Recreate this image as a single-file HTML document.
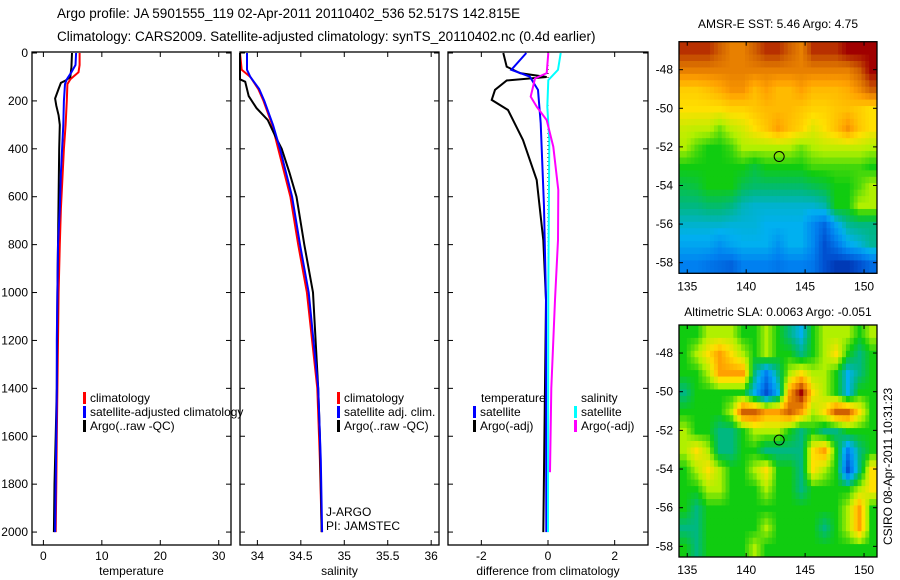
<!DOCTYPE html>
<html><head><meta charset="utf-8"><style>
body{margin:0;background:#fff;}
svg{display:block;font-family:"Liberation Sans",sans-serif;}
text{font-size:12px;fill:#000;}
</style></head><body>
<svg id="fig" width="900" height="580" viewBox="0 0 900 580" xmlns="http://www.w3.org/2000/svg">
<text x="57" y="18" style="font-size:13.5px">Argo profile: JA 5901555_119 02-Apr-2011 20110402_536 52.517S 142.815E</text>
<text x="57" y="41" style="font-size:13.5px">Climatology: CARS2009. Satellite-adjusted climatology: synTS_20110402.nc (0.4d earlier)</text>
<text x="778" y="28" text-anchor="middle">AMSR-E SST: 5.46 Argo: 4.75</text>
<text x="778" y="316" text-anchor="middle">Altimetric SLA: 0.0063 Argo: -0.051</text>
<text transform="translate(892,545) rotate(-90)">CSIRO 08-Apr-2011 10:31:23</text>
<g id="layer"></g>
</svg>
<script>
// ---- data ----
const depthTicks=[0,200,400,600,800,1000,1200,1400,1600,1800,2000];
const tempTicks=[0,10,20,30];
const salTicks=[34,34.5,35,35.5,36];
const diffTicks=[-2,0,2];
const climDepth=[0,50,80,110,130,200,300,400,500,650,800,1000,1200,1400,1600,1800,2000];
const climTemp=[6.2,6.2,6.0,4.6,4.1,4.0,3.8,3.5,3.3,3.0,2.8,2.6,2.5,2.4,2.3,2.2,2.1];
const satTemp=[5.6,5.5,4.8,4.0,3.7,3.5,3.4,3.2,3.0,2.8,2.5,2.4,2.3,2.3,2.2,2.1,2.0];
const argoDepth=[0,60,100,115,125,150,190,220,260,300,400,600,800,1000,1400,1600,1800,2000];
const argoTemp=[4.9,4.8,4.6,3.8,3.0,2.6,2.0,2.2,2.6,2.8,2.7,2.6,2.5,2.4,2.3,2.1,1.9,1.8];
const salDepth=[0,70,100,150,200,300,400,600,800,1000,1400,1700,2000];
const climSal=[33.80,33.82,33.92,34.01,34.07,34.17,34.24,34.38,34.47,34.57,34.69,34.72,34.74];
const satSal=[33.88,33.88,33.92,34.02,34.08,34.18,34.26,34.40,34.49,34.59,34.70,34.73,34.745];
const argoSalDepth=[0,110,120,180,230,280,350,400,500,600,800,1000,1400,1600,2000];
const argoSal=[33.80,33.80,33.86,33.90,33.99,34.12,34.21,34.28,34.37,34.45,34.54,34.64,34.70,34.72,34.74];
const dTsatDepth=[0,70,98,154,293,642,1031,2000];
const dTsat=[-0.65,-1.1,-0.55,-0.3,-0.22,-0.12,-0.06,-0.05];
const dTargoDepth=[0,57,84,100,115,154,196,238,363,530,781,1031,1500,2000];
const dTargo=[-1.34,-1.24,-0.84,-0.04,-1.24,-1.59,-1.69,-1.2,-0.75,-0.34,-0.14,-0.06,-0.1,-0.14];
const dSsatDepth=[0,70,113,224,363,1000,2000];
const dSsat=[0.38,0.3,0.01,-0.02,0.04,0.01,0.0];
const dSargoDepth=[0,84,106,182,224,280,391,572,781,1031,1400,1750];
const dSargo=[0.01,-0.04,-0.39,-0.52,-0.34,-0.04,0.16,0.31,0.3,0.21,0.1,0.06];
const mapLonTicks=[135,140,145,150];
const mapLatTicks=[-48,-50,-52,-54,-56,-58];
const sstGrid=[
[9.5,9.5,9.5,9,8.5,8.5,9,9.5,9.5,9,8.5,9.5,9.5,9.5,10,10,10],
[8.5,8.5,8.5,8.5,8.5,8.5,8.5,8.5,8.5,8.5,8.5,8.5,8.5,8.5,8.5,9,10],
[7.3,7.3,7.5,7.8,8.2,8.2,7.6,8,7.6,7.6,8,7.6,7.6,7.6,7.8,8.3,9],
[7,7,7,7,7.2,7.2,7.4,7.6,7.6,7.6,7.4,7.2,7.2,7.4,7.5,7.3,7],
[6.3,6.2,6.2,5.6,6.2,6.5,7,7.4,8,7.5,7.2,6.6,7,7.5,8.2,7.4,7],
[6,5.4,5,5,5.3,6,6,6,6,6,5.6,6,6.2,6.2,6.2,6.2,6],
[5,5,5,5,5,5,4.6,5,5,5,5,5.3,5.3,5.3,5.3,5.3,5],
[4.5,4.6,5,5,5,4.4,4.2,4.2,4.2,4.2,4.2,4.4,4.6,5,5,5.4,6],
[4,4,4.2,4.2,4,3.5,3.3,3.3,3.3,3.3,3.3,3.3,3.6,5,5,6,6],
[3.3,3.3,3.3,3.3,3.2,3.2,3.2,3,3,3,3,2.2,1.5,2.8,3.8,4,4],
[2.8,2.8,2.8,2.4,2.8,3,3,3,2.4,3,3,2.2,1,1.8,2.8,3.2,3.8],
[2,2,1.8,1.6,1.4,2,2,2,1.8,2,2,1.8,1,0.6,0.6,1,1.6]];
const slaGrid=[
[5,5,6,6,6,5,5,6,5,4,3,5,6,6,6,5,6],
[5,6,7,8,7,6,5,6,5,5,4,5,6,7,5,4,5],
[5,5,6,8,8,8,4,2,4,6,7,6,6,5,3,4,5],
[4,5,5,5,5,5,3,1,3,8,10,7,6,5,3,5,5],
[5,5,5,5,6,9,9,8,8,9,8,6,7,9,9,7,5],
[6,5,5,4,4,5,6,6,6,5,4,5,4,4,5,5,5],
[6,7,6,4,4,5,5,4,4,4,4,7,8,5,2,4,5],
[5,6,7,6,5,5,6,7,5,5,4,7,6,5,1,4,7],
[5,5,6,6,5,5,5,6,5,5,4,5,5,5,5,6,7],
[5,4,5,5,5,5,5,5,5,5,5,5,5,5,6,8,5],
[4,4,5,5,5,5,5,6,5,5,5,5,4,5,6,8,5],
[5,4,5,5,5,5,6,5,5,5,5,5,5,5,5,5,5]];
const argoLon=142.8, argoLat=-52.5;

// ---- helpers ----
const NS="http://www.w3.org/2000/svg";
const layer=document.getElementById('layer');
function mk(tag,attrs,parent){const e=document.createElementNS(NS,tag);for(const k in attrs)e.setAttribute(k,attrs[k]);(parent||layer).appendChild(e);return e;}
function lin(d0,d1,r0,r1){return v=>r0+(v-d0)*(r1-r0)/(d1-d0);}
const TOP=52,BOT=545;
const yD=lin(0,2054,53,545);
const panels=[
 {x0:32,x1:231,xs:lin(-1.95,32.1,32,231),ticks:tempTicks,label:'temperature',name:'temperature-panel',yl:true},
 {x0:240,x1:439,xs:lin(33.8,36.09,240,439),ticks:salTicks,label:'salinity',name:'salinity-panel'},
 {x0:448,x1:648,xs:lin(-3,3,448,648),ticks:diffTicks,label:'difference from climatology',name:'difference-panel'}
];
function poly(p,xs,ds,color,name,w){
 const pts=xs.map((v,i)=>p.xs(v).toFixed(1)+','+yD(ds[i]).toFixed(1)).join(' ');
 const e=mk('polyline',{points:pts,fill:'none',stroke:color,'stroke-width':w||2});
 
 
}
panels.forEach(p=>{
 const g=mk('g',{});
 
 
 const r=mk('rect',{x:p.x0,y:TOP,width:p.x1-p.x0,height:BOT-TOP,fill:'none',stroke:'#000','stroke-width':1.3},g);
 
 
 p.ticks.forEach(t=>{
  const x=p.xs(t);
  mk('line',{x1:x,x2:x,y1:BOT,y2:BOT-5,stroke:'#000'},g);
  mk('line',{x1:x,x2:x,y1:TOP,y2:TOP+5,stroke:'#000'},g);
  const tx=mk('text',{x:x,y:BOT+15,'text-anchor':'middle'},g);
  tx.textContent=t;
  
  
 });
 depthTicks.forEach(d=>{
  const y=yD(d);
  mk('line',{x1:p.x0,x2:p.x0+5,y1:y,y2:y,stroke:'#000'},g);
  mk('line',{x1:p.x1,x2:p.x1-5,y1:y,y2:y,stroke:'#000'},g);
  if(p.yl){const tx=mk('text',{x:28,y:y+4,'text-anchor':'end'},g);tx.textContent=d;
   
   }
 });
 const xl=mk('text',{x:(p.x0+p.x1)/2,y:575,'text-anchor':'middle'},g);
 xl.textContent=p.label;
 
 
});
const [P1,P2,P3]=panels;
poly(P1,climTemp,climDepth,'#ff0000','temp-climatology-line');
poly(P1,argoTemp,argoDepth,'#000000','temp-argo-line');
poly(P1,satTemp,climDepth,'#0000ff','temp-satellite-line');
poly(P2,climSal,salDepth,'#ff0000','sal-climatology-line');
poly(P2,argoSal,argoSalDepth,'#000000','sal-argo-line');
poly(P2,satSal,salDepth,'#0000ff','sal-satellite-line');
const z=mk('line',{x1:P3.xs(0),x2:P3.xs(0),y1:yD(0),y2:yD(2000),stroke:'#000','stroke-dasharray':'1,3'});


poly(P3,dTargo,dTargoDepth,'#000000','diff-temp-argo-line');
poly(P3,dTsat,dTsatDepth,'#0000ff','diff-temp-satellite-line');
poly(P3,dSsat,dSsatDepth,'#00ffff','diff-sal-satellite-line');
poly(P3,dSargo,dSargoDepth,'#ff00ff','diff-sal-argo-line');

function legend(x,y,color,label,name){
 const g=mk('g',{});
 
 
 if(color)mk('rect',{x:x,y:y-10,width:3,height:12,fill:color},g);
 const t=mk('text',{x:x+7,y:y},g);t.textContent=label;
}
legend(83,402,'#ff0000','climatology','legend-climatology');
legend(83,416,'#0000ff','satellite-adjusted climatology','legend-satellite-adjusted');
legend(83,430,'#000000','Argo(..raw -QC)','legend-argo');
legend(337,402,'#ff0000','climatology','legend-sal-climatology');
legend(337,416,'#0000ff','satellite adj. clim.','legend-sal-satellite');
legend(337,430,'#000000','Argo(..raw -QC)','legend-sal-argo');
legend(474,402,null,'temperature','legend-temperature-head');
legend(473,416,'#0000ff','satellite','legend-diff-temp-satellite');
legend(473,430,'#000000','Argo(-adj)','legend-diff-temp-argo');
legend(574,402,null,'salinity','legend-salinity-head');
legend(574,416,'#00ffff','satellite','legend-diff-sal-satellite');
legend(574,430,'#ff00ff','Argo(-adj)','legend-diff-sal-argo');
let t1=mk('text',{x:326,y:516});t1.textContent='J-ARGO';


let t2=mk('text',{x:326,y:530});t2.textContent='PI: JAMSTEC';



// ---- maps ----
const stops=[[0,24,144],[0,80,208],[0,128,240],[0,176,240],[0,184,128],[16,204,16],[176,240,0],[255,224,0],[255,160,0],[208,96,0],[160,0,0]];
function cmap(v){v=Math.max(0,Math.min(10,v));const i=Math.min(9,Math.floor(v)),f=v-i;
 const a=stops[i],b=stops[i+1];return 'rgb('+a.map((c,k)=>Math.round(c+(b[k]-c)*f)).join(',')+')';}
function sample(grid,r,c){const nR=grid.length,nC=grid[0].length;
 r=Math.max(0,Math.min(nR-1,r));c=Math.max(0,Math.min(nC-1,c));
 const r0=Math.floor(r),c0=Math.floor(c),r1=Math.min(nR-1,r0+1),c1=Math.min(nC-1,c0+1),fr=r-r0,fc=c-c0;
 return grid[r0][c0]*(1-fr)*(1-fc)+grid[r0][c1]*(1-fr)*fc+grid[r1][c0]*fr*(1-fc)+grid[r1][c1]*fr*fc;}
function drawMap(grid,top,bot,name){
 const x0=679,x1=877;
 const xs=lin(134.3,151.1,x0,x1), ys=lin(-46.55,-58.55,top,bot);
 const g=mk('g',{});
 
 
 const nR=grid.length,nC=grid[0].length,S=3;
 const cw=(x1-x0)/(nC*S), ch=(bot-top)/(nR*S);
 for(let i=0;i<nR*S;i++)for(let j=0;j<nC*S;j++){
  const v=sample(grid,(i+0.5)/S-0.5,(j+0.5)/S-0.5);
  const c=mk('rect',{x:(x0+j*cw).toFixed(2),y:(top+i*ch).toFixed(2),width:(cw+0.5).toFixed(2),height:(ch+0.5).toFixed(2),fill:cmap(v)},g);
  
  
 }
 const fr=mk('rect',{x:x0,y:top,width:x1-x0,height:bot-top,fill:'none',stroke:'#000','stroke-width':1.3},g);
 
 
 mapLonTicks.forEach(l=>{const x=xs(l);
  mk('line',{x1:x,x2:x,y1:top,y2:top+4,stroke:'#000'},g);
  mk('line',{x1:x,x2:x,y1:bot,y2:bot-4,stroke:'#000'},g);
  const t=mk('text',{x:x,y:bot+17,'text-anchor':'middle'},g);t.textContent=l;
  
  });
 mapLatTicks.forEach(l=>{const y=ys(l);
  mk('line',{x1:x0,x2:x0+4,y1:y,y2:y,stroke:'#000'},g);
  mk('line',{x1:x1,x2:x1-4,y1:y,y2:y,stroke:'#000'},g);
  const t=mk('text',{x:673,y:y+4,'text-anchor':'end'},g);t.textContent=l;
  
  });
 const m=mk('circle',{cx:xs(argoLon),cy:ys(argoLat),r:5,fill:'none',stroke:'#000','stroke-width':1},g);
 
 
}
drawMap(sstGrid,41.7,273.3,'sst-map');
drawMap(slaGrid,325,557,'sla-map');
</script>
</body></html>
